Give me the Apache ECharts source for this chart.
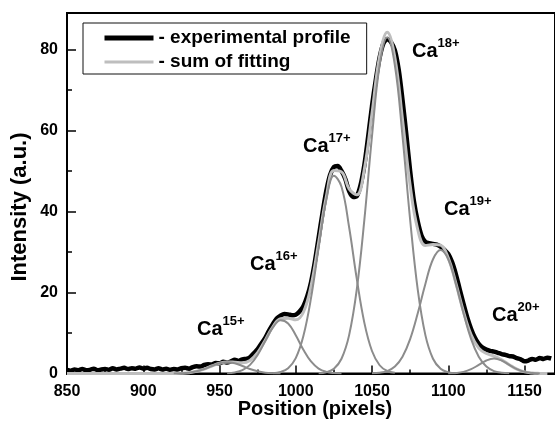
<!DOCTYPE html>
<html>
<head>
<meta charset="utf-8">
<script src="https://cdn.jsdelivr.net/npm/echarts@6/dist/echarts.min.js"></script>
<style>
  html, body { margin: 0; padding: 0; background: #fff; }
  #chart { width: 555px; height: 424px; }
</style>
</head>
<body>
<div id="chart"></div>
<script>
// Measured profile (position in pixels, intensity in a.u.)
const expPos = [
  850, 852.5, 855, 857.5, 860, 862.5, 865, 867.5, 870, 872.5,
  875, 877.5, 880, 882.5, 885, 887.5, 890, 892.5, 895, 897.5,
  900, 902.5, 905, 907.5, 910, 912.5, 915, 917.5, 920, 922.5,
  925, 927.5, 930, 932.5, 935, 937.5, 940, 942.5, 945, 947.5,
  950, 952.5, 955, 957.5, 960, 962.5, 965, 967.5, 970, 972.5,
  975, 977.5, 980, 982.5, 985, 987.5, 990, 992.5, 995, 997.5,
  1000, 1002.5, 1005, 1007.5, 1010, 1012.5, 1015, 1017.5, 1020, 1022.5,
  1025, 1027.5, 1030, 1032.5, 1035, 1037.5, 1040, 1042.5, 1045, 1047.5,
  1050, 1052.5, 1055, 1057.5, 1060, 1062.5, 1065, 1067.5, 1070, 1072.5,
  1075, 1077.5, 1080, 1082.5, 1085, 1087.5, 1090, 1092.5, 1095, 1097.5,
  1100, 1102.5, 1105, 1107.5, 1110, 1112.5, 1115, 1117.5, 1120, 1122.5,
  1125, 1127.5, 1130, 1132.5, 1135, 1137.5, 1140, 1142.5, 1145, 1147.5,
  1150, 1152.5, 1155, 1157.5, 1160, 1162.5, 1165, 1167.5
];
const expVal = [
  0.9, 0.7, 1.0, 0.8, 1.1, 0.8, 0.9, 1.2, 0.8, 1.0,
  1.1, 0.9, 1.3, 1.0, 1.2, 1.4, 1.1, 1.3, 1.2, 1.5,
  1.2, 1.4, 1.1, 1.0, 1.3, 1.0, 1.2, 0.9, 1.1, 1.0,
  1.3, 1.4, 1.2, 1.6, 1.8, 1.7, 2.1, 2.3, 2.2, 2.6,
  2.5, 2.9, 2.7, 3.0, 3.4, 3.1, 3.5, 3.6, 4.0, 5.0,
  6.0, 7.4, 8.8, 10.6, 12.2, 13.6, 14.3, 14.7, 14.6, 14.4,
  14.5, 15.3, 16.6, 19.0, 22.5, 27.5, 33.5, 39.5, 45.0, 49.0,
  51.0, 51.2, 50.0, 48.0, 45.0, 43.6, 43.8, 46.5, 51.5, 58.5,
  66.0, 72.5, 78.0, 81.5, 82.5, 81.8, 79.8, 75.0, 67.5, 59.0,
  50.0, 42.5, 37.5, 34.0, 32.5, 32.2, 32.0, 31.8, 31.3, 30.5,
  29.5, 27.5, 24.5, 20.8, 17.2, 13.8, 11.0, 8.8, 7.3, 6.4,
  5.9, 5.6, 5.4, 5.1, 4.8, 4.6, 4.3, 4.2, 3.8, 3.5,
  3.0, 3.2, 3.6, 3.4, 3.8, 3.6, 3.9, 3.7
];

// Sum of the fitted peaks
const sumPos = [
  850, 855, 860, 865, 870, 875, 880, 885, 890, 895,
  900, 905, 910, 915, 920, 925, 930, 935, 940, 945,
  950, 955, 960, 965, 970, 975, 980, 985, 990, 995,
  1000, 1005, 1010, 1015, 1020, 1025, 1030, 1035, 1040, 1045,
  1050, 1055, 1060, 1065, 1070, 1075, 1080, 1085, 1090, 1095,
  1100, 1105, 1110, 1115, 1120, 1125, 1130, 1135, 1140, 1145,
  1150, 1155, 1160, 1165
];
const sumVal = [
  0, 0, 0, 0, 0, 0, 0, 0, 0, 0,
  0, 0, 0, 0, 0.02, 0.07, 0.21, 0.54, 1.10, 1.85,
  2.53, 2.86, 2.78, 2.66, 3.23, 5.12, 8.22, 11.54, 13.54, 13.66,
  13.24, 15.12, 21.57, 32.29, 43.53, 50.09, 49.77, 45.58, 44.10, 50.50,
  64.20, 78.32, 84.22, 77.97, 62.73, 46.48, 35.55, 31.58, 31.85, 31.68,
  28.55, 22.29, 15.25, 9.54, 6.26, 4.93, 4.30, 3.40, 2.18, 1.06,
  0.40, 0.12, 0.03, 0
];

// Individual charge-state peaks
const ca15Pos = [920, 925, 930, 935, 940, 945, 950, 955, 960, 965, 970, 975, 980, 985, 990];
const ca15Val = [0.02, 0.07, 0.21, 0.54, 1.10, 1.85, 2.53, 2.80, 2.53, 1.85, 1.10, 0.54, 0.21, 0.07, 0.02];

const ca16Pos = [955, 960, 965, 970, 975, 980, 985, 990, 995, 1000, 1005, 1010, 1015, 1020, 1025, 1030];
const ca16Val = [0.06, 0.25, 0.81, 2.13, 4.58, 8.01, 11.38, 13.15, 12.36, 9.44, 5.87, 2.97, 1.22, 0.41, 0.11, 0.02];

const ca17Pos = [985, 990, 995, 1000, 1005, 1010, 1015, 1020, 1025, 1030, 1035, 1040, 1045, 1050, 1055, 1060, 1065];
const ca17Val = [0.09, 0.37, 1.30, 3.80, 9.25, 18.6, 31.0, 42.8, 48.8, 46.1, 36.1, 23.4, 12.5, 5.55, 2.04, 0.62, 0.16];

const ca18Pos = [1015, 1020, 1025, 1030, 1035, 1040, 1045, 1050, 1055, 1060, 1065, 1070, 1075, 1080, 1085, 1090, 1095, 1100, 1105];
const ca18Val = [0.07, 0.32, 1.18, 3.65, 9.48, 20.7, 38.0, 58.6, 76.1, 83.0, 76.1, 58.6, 38.0, 20.7, 9.48, 3.65, 1.18, 0.32, 0.07];

const ca19Pos = [1050, 1055, 1060, 1065, 1070, 1075, 1080, 1085, 1090, 1095, 1100, 1105, 1110, 1115, 1120, 1125, 1130, 1135, 1140];
const ca19Val = [0.05, 0.18, 0.60, 1.71, 4.13, 8.48, 14.85, 22.1, 28.2, 30.5, 28.2, 22.1, 14.85, 8.48, 4.13, 1.71, 0.60, 0.18, 0.05];

const ca20Pos = [1100, 1105, 1110, 1115, 1120, 1125, 1130, 1135, 1140, 1145, 1150, 1155, 1160];
const ca20Val = [0.03, 0.12, 0.40, 1.06, 2.13, 3.22, 3.70, 3.22, 2.13, 1.06, 0.40, 0.12, 0.03];

// Peak labels: charge state and the screen anchor of each label
const peakNames = ['15+', '16+', '17+', '18+', '19+', '20+'];
const labelAnchors = [[197, 315], [250, 250], [303, 132], [412, 37], [444, 195], [492, 301]];

const FONT = '"Liberation Sans", Arial, Helvetica, sans-serif';

const pairs = (xs, ys) => xs.map((x, i) => [x, ys[i]]);

const fitStyle = { color: '#8c8c8c', width: 2 };
const components = [
  ['Ca15+', ca15Pos, ca15Val],
  ['Ca16+', ca16Pos, ca16Val],
  ['Ca17+', ca17Pos, ca17Val],
  ['Ca18+', ca18Pos, ca18Val],
  ['Ca19+', ca19Pos, ca19Val],
  ['Ca20+', ca20Pos, ca20Val]
].map(([name, xs, ys]) => ({
  name: name,
  type: 'line',
  data: pairs(xs, ys),
  symbol: 'none',
  smooth: 0.4,
  itemStyle: { color: fitStyle.color },
  lineStyle: fitStyle,
  z: 4,
  silent: true
}));

const chart = echarts.init(document.getElementById('chart'), null, { renderer: 'canvas' });

chart.setOption({
  animation: false,
  backgroundColor: '#fff',
  grid: {
    left: 67, top: 13, width: 493, height: 360.5,
    show: true, borderColor: '#000', borderWidth: 2, backgroundColor: 'transparent'
  },
  legend: {
    left: 83, top: 23,
    orient: 'vertical',
    itemWidth: 49, itemHeight: 14, itemGap: 4, itemTextGap: 4,
    padding: [5, 16, 2, 19],
    borderColor: '#111', borderWidth: 1,
    selectedMode: false,
    formatter: '- {name}',
    itemStyle: { opacity: 0 },
    textStyle: { fontFamily: FONT, fontWeight: 'bold', fontSize: 19, color: '#000', lineHeight: 20 },
    data: [
      { name: 'experimental profile', lineStyle: { width: 5, color: '#000' } },
      { name: 'sum of fitting', lineStyle: { width: 3, color: '#bebebe' } }
    ]
  },
  xAxis: {
    type: 'value', min: 850, max: 1170, interval: 50,
    axisLine: { lineStyle: { color: '#000', width: 2 } },
    axisTick: { inside: true, length: 8, lineStyle: { color: '#000', width: 1.5 } },
    minorTick: { show: true, splitNumber: 2, length: 4, lineStyle: { color: '#000', width: 1.5 } },
    splitLine: { show: false },
    axisLabel: {
      showMaxLabel: false, margin: 10, color: '#000', fontFamily: FONT, fontWeight: 'bold', fontSize: 16,
      formatter: v => String(v)
    }
  },
  yAxis: {
    type: 'value', min: 0, max: 89, interval: 20,
    axisLine: { lineStyle: { color: '#000', width: 2 } },
    axisTick: { inside: true, length: 9, lineStyle: { color: '#000', width: 1.5 } },
    minorTick: { show: true, splitNumber: 2, length: 5, lineStyle: { color: '#000', width: 1.5 } },
    splitLine: { show: false },
    axisLabel: {
      margin: 9, color: '#000', fontFamily: FONT, fontWeight: 'bold', fontSize: 16,
      formatter: v => (v % 20 === 0 ? String(v) : '')
    }
  },
  graphic: [
    {
      type: 'text', x: 315, y: 409, silent: true,
      style: {
        text: 'Position (pixels)', fill: '#000',
        font: 'bold 20px ' + FONT,
        align: 'center', verticalAlign: 'middle',
        textAlign: 'center', textVerticalAlign: 'middle'
      }
    },
    {
      type: 'text', x: 20, y: 207, rotation: Math.PI / 2, silent: true,
      style: {
        text: 'Intensity (a.u.)', fill: '#000',
        font: 'bold 22px ' + FONT,
        align: 'center', verticalAlign: 'middle',
        textAlign: 'center', textVerticalAlign: 'middle'
      }
    }
  ].concat(peakNames.map((q, i) => ({
    type: 'text', x: labelAnchors[i][0], y: labelAnchors[i][1], silent: true,
    style: {
      text: '{a|Ca}{b|' + q + '}',
      align: 'left', verticalAlign: 'top',
      textAlign: 'left', textVerticalAlign: 'top',
      rich: {
        a: { fontFamily: FONT, fontWeight: 'bold', fontSize: 20, lineHeight: 29, fill: '#000', color: '#000' },
        b: { fontFamily: FONT, fontWeight: 'bold', fontSize: 13, lineHeight: 13, verticalAlign: 'top', fill: '#000', color: '#000' }
      }
    }
  }))),
  series: [
    {
      name: 'experimental profile',
      type: 'line',
      data: pairs(expPos, expVal),
      symbol: 'none',
      smooth: 0.3,
      itemStyle: { color: '#000' },
      lineStyle: { color: '#000', width: 4.5 },
      z: 2,
      silent: true
    },
    {
      name: 'sum of fitting',
      type: 'line',
      data: pairs(sumPos, sumVal),
      symbol: 'none',
      smooth: 0.4,
      itemStyle: { color: '#bebebe' },
      lineStyle: { color: '#bebebe', width: 3 },
      z: 3,
      silent: true
    }
  ].concat(components)
});
</script>
</body>
</html>
